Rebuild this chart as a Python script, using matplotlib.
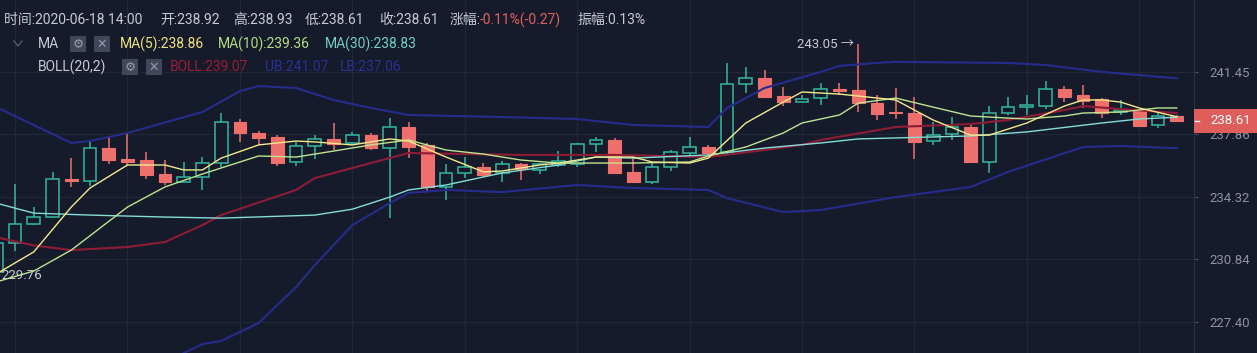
import numpy as np
import matplotlib
matplotlib.use('Agg')
import matplotlib.pyplot as plt
from matplotlib.patches import Rectangle
from matplotlib.lines import Line2D
from matplotlib.ticker import NullLocator

plt.rcParams['font.family'] = ['Roboto', 'Noto Sans CJK SC', 'DejaVu Sans']

# ---- candle data ----
opens = [230.13, 231.73, 232.80, 233.18, 235.32, 235.20, 237.07, 236.45, 236.39, 235.60,
         235.15, 235.43, 236.22, 238.55, 237.93, 237.70, 236.28, 237.19, 237.59, 237.36,
         237.81, 237.07, 238.27, 237.25, 234.87, 235.66, 236.00, 235.66, 236.16, 235.83,
         236.11, 236.16, 237.30, 237.53, 235.71, 235.15, 236.00, 236.79, 237.13, 236.85,
         240.74, 241.09, 240.05, 239.70, 239.93, 240.45, 240.39, 239.64, 239.13, 239.07,
         237.47, 237.87, 238.27, 236.28, 239.07, 239.41, 239.47, 240.45, 240.10, 239.88,
         239.13, 239.19, 238.39, 238.92]
highs = [231.90, 235.04, 233.74, 235.72, 236.50, 237.53, 237.70, 237.93, 236.85, 236.39,
         236.28, 236.56, 239.07, 238.73, 238.04, 237.81, 237.42, 237.81, 238.50, 237.99,
         237.93, 238.78, 238.55, 237.36, 236.16, 236.56, 236.22, 236.33, 236.22, 236.22,
         236.90, 237.36, 237.70, 237.64, 236.50, 236.22, 236.96, 237.70, 237.25, 241.96,
         241.73, 241.55, 240.57, 240.10, 240.80, 240.80, 243.05, 240.10, 240.51, 239.99,
         238.55, 238.84, 238.39, 239.47, 239.99, 240.10, 240.91, 240.62, 240.68, 239.93,
         239.82, 239.30, 239.07, 238.93]
lows = [229.76, 231.29, 232.75, 233.12, 234.87, 234.93, 236.16, 236.11, 235.32, 234.98,
        235.15, 234.70, 236.00, 237.42, 237.25, 236.05, 236.05, 236.45, 236.96, 237.25,
        236.96, 233.12, 236.50, 234.59, 234.13, 235.38, 235.43, 235.15, 235.26, 235.60,
        236.00, 236.00, 236.85, 235.66, 235.15, 235.04, 235.77, 236.56, 236.56, 236.68,
        240.22, 239.99, 239.47, 239.70, 239.53, 240.10, 239.13, 238.67, 238.73, 236.45,
        237.25, 237.53, 236.28, 235.66, 238.96, 238.96, 239.30, 239.70, 239.36, 238.78,
        238.96, 238.33, 238.22, 238.61]
closes = [231.73, 232.80, 233.18, 235.32, 235.20, 237.07, 236.39, 236.27, 235.55, 235.15,
          235.43, 236.22, 238.55, 237.93, 237.64, 236.22, 237.19, 237.59, 237.30, 237.81,
          237.07, 238.27, 237.13, 234.87, 235.66, 236.00, 235.55, 236.16, 235.88, 236.16,
          236.33, 237.30, 237.53, 235.66, 235.15, 236.00, 236.85, 237.13, 236.79, 240.74,
          241.09, 239.99, 239.70, 239.88, 240.45, 240.33, 239.64, 239.01, 239.07, 237.42,
          237.81, 238.27, 236.28, 239.07, 239.41, 239.53, 240.45, 239.99, 239.76, 239.07,
          239.24, 238.33, 238.88, 238.61]

# ---- indicator lines (candle index, value) ----
ma5_idx = [0, 2, 4, 5, 7, 9, 10, 11, 12, 14, 16, 17, 19, 21, 22, 24, 26, 27, 29, 30, 32, 34,
           35, 37, 38, 40, 42, 43, 45, 48, 49, 50, 52, 53, 55, 57, 58, 59, 60, 61, 63]
ma5_val = [230.02, 231.24, 233.74, 234.81, 236.11, 236.11, 235.83, 235.83, 236.50, 237.25,
           237.47, 237.42, 237.25, 237.59, 237.47, 236.56, 235.72, 235.77, 236.11, 236.22,
           236.56, 236.56, 236.28, 236.22, 236.50, 238.50, 239.70, 240.28, 240.16, 239.82,
           239.24, 238.67, 237.81, 237.81, 238.50, 239.47, 239.82, 239.82, 239.70, 239.36,
           238.86]
ma10_idx = [0, 2, 4, 7, 9, 11, 14, 16, 18, 20, 22, 24, 26, 28, 30, 34, 37, 38, 40, 42, 43,
            45, 46, 48, 50, 52, 54, 55, 57, 58, 60, 62, 63]
ma10_val = [229.58, 230.18, 231.34, 233.74, 234.87, 235.60, 236.62, 236.56, 236.90, 237.25,
            237.53, 236.96, 236.73, 236.39, 236.22, 236.22, 236.28, 236.62, 237.13, 237.93,
            238.50, 238.96, 239.64, 239.93, 239.41, 238.90, 238.78, 238.73, 238.90, 239.07,
            239.13, 239.36, 239.36]
ma30_idx = [0, 2, 5, 9, 12, 17, 19, 21, 22, 24, 27, 30, 32, 34, 38, 41, 44, 46, 52, 55, 59,
            61, 63]
ma30_val = [233.96, 233.40, 233.29, 233.18, 233.12, 233.29, 233.62, 234.30, 234.70, 234.98,
            235.66, 236.11, 236.56, 236.50, 236.68, 237.07, 237.36, 237.59, 237.76, 237.99,
            238.50, 238.73, 238.83]
boll_idx = [0, 2, 4, 7, 9, 11, 12, 16, 17, 20, 22, 28, 33, 38, 41, 43, 44, 48, 52, 54, 57,
            58, 60, 63]
boll_val = [232.05, 231.60, 231.34, 231.51, 231.79, 232.73, 233.29, 234.70, 235.37, 236.22,
            236.79, 236.68, 236.68, 236.56, 236.96, 237.25, 237.53, 238.27, 238.44, 238.67,
            239.24, 239.47, 239.30, 239.07]
ub_idx = [0, 4, 5, 7, 11, 13, 14, 16, 18, 20, 22, 27, 31, 33, 34, 38, 39, 41, 44, 45, 47, 48,
          54, 56, 59, 63]
ub_val = [239.41, 237.36, 237.47, 237.93, 239.13, 240.33, 240.62, 240.51, 239.82, 239.36,
          238.96, 238.84, 238.73, 238.50, 238.39, 238.27, 239.36, 240.51, 241.44, 241.79,
          241.96, 242.02, 241.96, 241.84, 241.44, 241.07]
lb_idx = [10, 11, 12, 14, 16, 17, 19, 21, 22, 24, 27, 31, 34, 38, 39, 42, 44, 48, 52, 54, 58,
          60, 63]
lb_val = [225.70, 226.18, 226.35, 227.33, 229.30, 230.51, 232.73, 233.96, 234.53, 234.70,
          234.58, 234.98, 234.81, 234.70, 234.24, 233.46, 233.57, 234.30, 234.87, 235.72,
          237.13, 237.19, 237.06]

y_ticks = [241.45, 237.86, 234.32, 230.84, 227.40]
last_price = 238.61

# ---- style ----
W, H = 1257, 353
BG = '#161b2b'
GRID = '#222737'
UP = '#34b89f'
DOWN = '#ee6f6b'
TXT = '#c6cad4'

opens, highs, lows, closes = map(np.array, (opens, highs, lows, closes))
x = np.arange(len(closes))
up = closes >= opens

fig = plt.figure(figsize=(W / 100, H / 100), dpi=100)
fig.patch.set_facecolor(BG)
ax = fig.add_axes([0, 0, 1194 / W, 1])
ax.set_facecolor(BG)
ax.set_yscale('log')
ax.set_xlim(0.197, 63.92)
ax.set_ylim(225.70, 245.64)

# grid
for t in y_ticks:
    ax.axhline(t, color=GRID, lw=0.9, zorder=0)
for i in range(1, len(x), 6):
    ax.axvline(i, color=GRID, lw=0.9, zorder=0)

# candles
ax.vlines(x[up], lows[up], highs[up], color=UP, lw=1.1, zorder=2)
ax.vlines(x[~up], lows[~up], highs[~up], color=DOWN, lw=1.1, zorder=2)
ax.bar(x[up], np.maximum(closes[up] - opens[up], 0.02), bottom=opens[up], width=0.68,
       facecolor=BG, edgecolor=UP, lw=1.1, zorder=3)
ax.bar(x[~up], np.maximum(opens[~up] - closes[~up], 0.02), bottom=closes[~up], width=0.68,
       facecolor=DOWN, edgecolor=DOWN, lw=0.8, zorder=3)

# indicators
ax.plot(ub_idx, ub_val, color='#262c8c', lw=1.5, zorder=4)
ax.plot(lb_idx, lb_val, color='#262c8c', lw=1.5, zorder=4)
ax.plot(boll_idx, boll_val, color='#8e1c35', lw=1.5, zorder=4)
ax.plot(ma30_idx, ma30_val, color='#86dcd6', lw=1.0, zorder=5)
ax.plot(ma10_idx, ma10_val, color='#bfe391', lw=1.0, zorder=5)
ax.plot(ma5_idx, ma5_val, color='#f4e98a', lw=1.0, zorder=6)

# high / low markers
ih = int(np.argmax(highs))
ax.annotate(f'{highs[ih]:.2f} →', xy=(ih, highs[ih]), xytext=(-3, 0), textcoords='offset points',
            ha='right', va='center', color=TXT, fontsize=9.5, annotation_clip=False)
il = int(np.argmin(lows))
ax.annotate(f'{lows[il]:.2f}', xy=(il, lows[il]), xytext=(4, 2), textcoords='offset points',
            ha='left', va='center', color=TXT, fontsize=9.5, annotation_clip=False)

# axes / ticks
for s in ['top', 'left', 'bottom']:
    ax.spines[s].set_visible(False)
ax.spines['right'].set_color('#2c3142')
ax.set_xticks([])
ax.yaxis.tick_right()
ax.set_yticks(y_ticks)
ax.set_yticklabels([f'{t:.2f}' for t in y_ticks])
ax.yaxis.set_minor_locator(NullLocator())
ax.tick_params(axis='y', length=3, color='#4a4f60', labelcolor='#8d92a1', labelsize=9.5, pad=8)

# current price box
fig.add_artist(Rectangle((1194 / W, 1 - 133 / H), 63 / W, 24 / H, transform=fig.transFigure,
                         facecolor='#df5d5a', edgecolor='none', zorder=10))
fig.add_artist(Line2D([1195 / W, 1199 / W], [1 - 121 / H] * 2, color='white', lw=1, zorder=11))
fig.text(1210 / W, 1 - 121 / H, f'{last_price:.2f}', color='white', fontsize=9.5,
         va='center', ha='left', zorder=11)


def T(px, py, s, c=TXT, **kw):
    fig.text(px / W, 1 - py / H, s, color=c, fontsize=10, va='center', ha='left', **kw)


def icon_box(px, py, glyph):
    fig.add_artist(Rectangle((px / W, 1 - (py + 8) / H), 16 / W, 16 / H,
                             transform=fig.transFigure, facecolor='#41465a', edgecolor='none'))
    fig.text((px + 8) / W, 1 - py / H, glyph, color='#959aab', fontsize=9, ha='center',
             va='center', family='DejaVu Sans')


# header row 1
T(4, 20, '时间:2020-06-18 14:00')
T(160, 20, '开:238.92')
T(233, 20, '高:238.93')
T(305, 20, '低:238.61')
T(379, 20, '收:238.61')
T(450, 20, '涨幅:')
T(480, 20, '-0.11%(-0.27)', '#e0605e')
T(577, 20, '振幅:0.13%')

# row 2: MA legend
fig.add_artist(Line2D([14 / W, 18 / W, 22 / W], [1 - 41 / H, 1 - 46 / H, 1 - 41 / H],
                      color='#555a6a', lw=1))
T(38, 44, 'MA')
icon_box(70, 44, '⚙')
icon_box(94, 44, '✕')
T(120, 44, 'MA(5):238.86', '#ede27a')
T(218, 44, 'MA(10):239.36', '#b3dc84')
T(325, 44, 'MA(30):238.83', '#6fd0c0')

# row 3: BOLL legend
T(38, 67, 'BOLL(20,2)')
icon_box(122, 67, '⚙')
icon_box(146, 67, '✕')
T(170, 67, 'BOLL:239.07', '#9b1d33')
T(265, 67, 'UB:241.07', '#2a3196')
T(340, 67, 'LB:237.06', '#2a3196')

fig.savefig('out.png', dpi=100, facecolor=BG)
